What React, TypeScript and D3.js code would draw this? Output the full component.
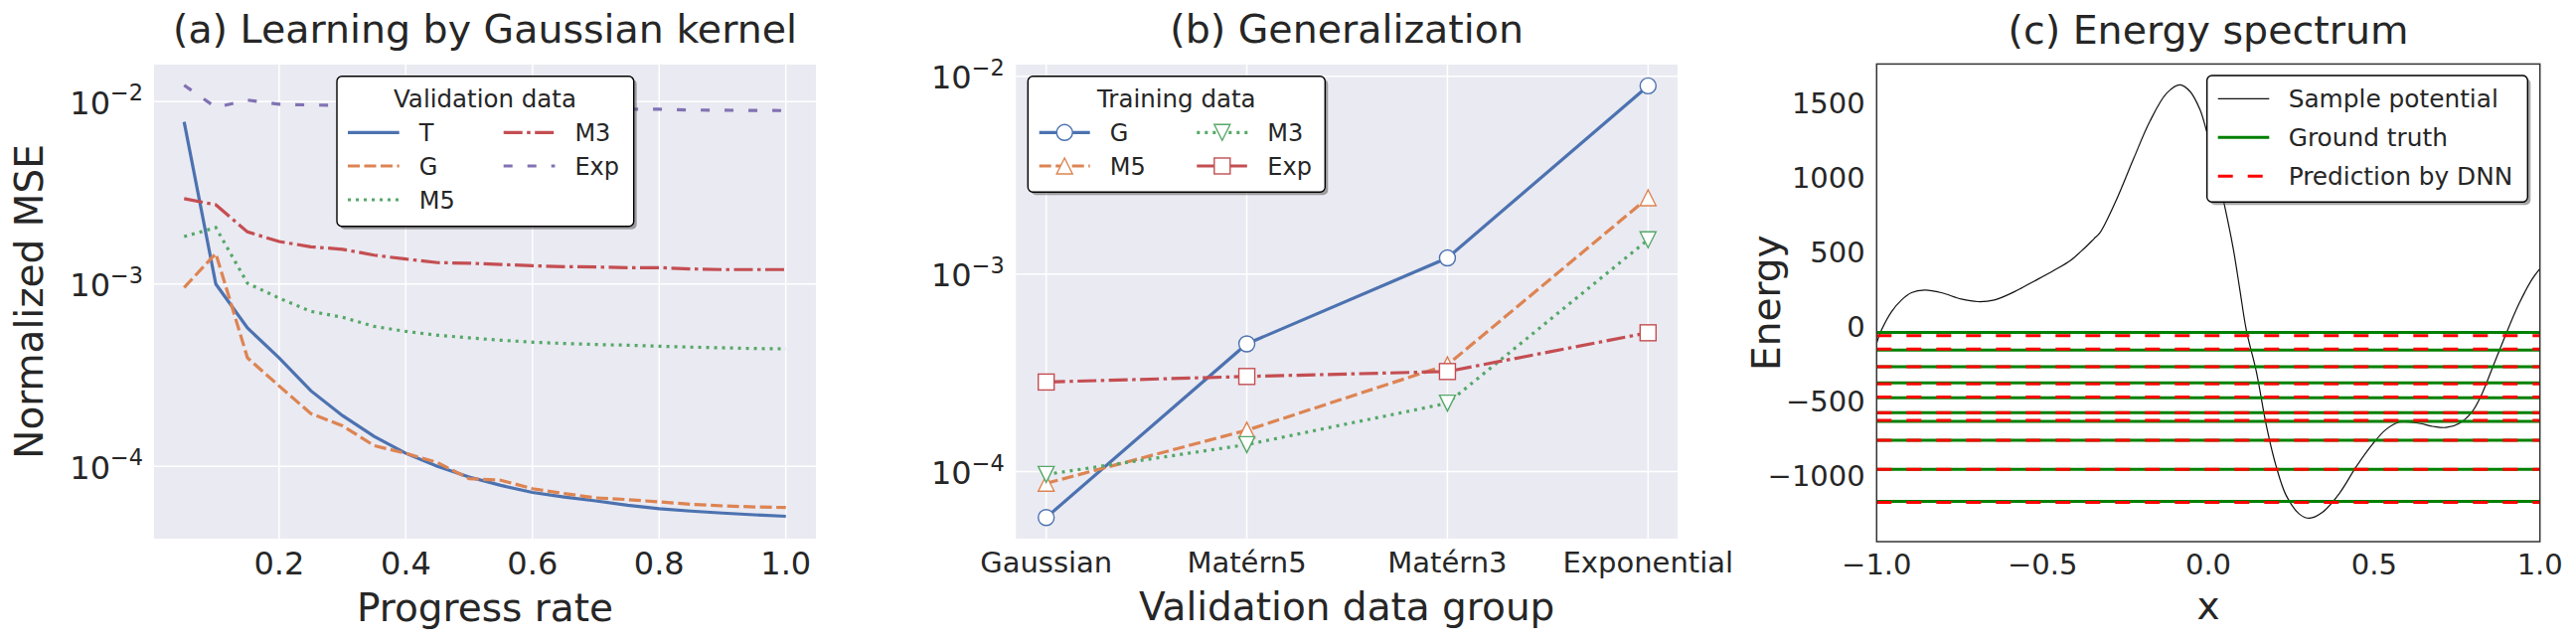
import React from 'react';
import * as d3 from 'd3';

// ---------------- Data ----------------
// Panel (a): learning by Gaussian kernel
const progress = [0.05, 0.1, 0.15, 0.2, 0.25, 0.3, 0.35, 0.4, 0.45, 0.5, 0.55, 0.6, 0.65, 0.7, 0.75, 0.8, 0.85, 0.9, 0.95, 1.0];
const valT = [7.74e-3, 1.0e-3, 5.74e-4, 3.94e-4, 2.6e-4, 1.9e-4, 1.46e-4, 1.18e-4, 1.0e-4, 8.75e-5, 7.87e-5, 7.2e-5, 6.8e-5, 6.47e-5, 6.13e-5, 5.87e-5, 5.69e-5, 5.55e-5, 5.43e-5, 5.33e-5];
const valG = [9.57e-4, 1.47e-3, 3.94e-4, 2.76e-4, 1.95e-4, 1.67e-4, 1.3e-4, 1.18e-4, 1.05e-4, 8.57e-5, 8.4e-5, 7.55e-5, 7.1e-5, 6.72e-5, 6.58e-5, 6.39e-5, 6.2e-5, 6.08e-5, 6.0e-5, 5.95e-5];
const valM5 = [1.82e-3, 2.04e-3, 1.01e-3, 8.37e-4, 7.08e-4, 6.57e-4, 5.86e-4, 5.5e-4, 5.24e-4, 5.07e-4, 4.92e-4, 4.8e-4, 4.72e-4, 4.66e-4, 4.62e-4, 4.56e-4, 4.51e-4, 4.47e-4, 4.43e-4, 4.41e-4];
const valM3 = [2.94e-3, 2.72e-3, 1.93e-3, 1.71e-3, 1.6e-3, 1.55e-3, 1.44e-3, 1.37e-3, 1.31e-3, 1.3e-3, 1.28e-3, 1.26e-3, 1.245e-3, 1.24e-3, 1.23e-3, 1.23e-3, 1.21e-3, 1.2e-3, 1.2e-3, 1.2e-3];
const valExp = [1.23e-2, 9.3e-3, 1.02e-2, 9.67e-3, 9.58e-3, 9.55e-3, 9.45e-3, 9.4e-3, 9.35e-3, 9.3e-3, 9.25e-3, 9.2e-3, 9.15e-3, 9.1e-3, 9.1e-3, 9.08e-3, 9.0e-3, 8.97e-3, 8.95e-3, 8.93e-3];
const seriesANames = ['T', 'G', 'M5', 'M3', 'Exp'];
const xTicksA = [0.2, 0.4, 0.6, 0.8, 1.0];
const logTicks = [-2, -3, -4];

// Panel (b): generalization
const groupsB = ['Gaussian', 'Matérn5', 'Matérn3', 'Exponential'];
const trainG = [5.86e-5, 4.43e-4, 1.205e-3, 8.94e-3];
const trainM5 = [8.73e-5, 1.62e-4, 3.47e-4, 2.43e-3];
const trainM3 = [9.68e-5, 1.37e-4, 2.22e-4, 1.49e-3];
const trainExp = [2.84e-4, 3.03e-4, 3.21e-4, 5.04e-4];
const seriesBNames = ['G', 'M5', 'M3', 'Exp'];

// Panel (c): energy spectrum
const potX = [-1.0, -0.985, -0.955, -0.925, -0.895, -0.855, -0.805, -0.745, -0.695, -0.645, -0.585, -0.525, -0.465, -0.415, -0.375, -0.345, -0.326, -0.276, -0.226, -0.176, -0.125, -0.085, -0.055, -0.025, -0.005, 0.02, 0.047, 0.075, 0.095, 0.115, 0.145, 0.175, 0.205, 0.235, 0.275, 0.305, 0.345, 0.395, 0.446, 0.496, 0.536, 0.576, 0.636, 0.677, 0.717, 0.757, 0.797, 0.827, 0.857, 0.897, 0.937, 0.977, 1.0];
const potE = [-112, -23, 99, 177, 226, 243, 226, 183, 166, 177, 232, 303, 376, 443, 521, 587, 630, 854, 1120, 1375, 1564, 1619, 1575, 1453, 1308, 1090, 832, 525, 249, -28, -304, -664, -941, -1134, -1259, -1286, -1245, -1120, -941, -788, -691, -642, -650, -670, -678, -650, -567, -443, -277, -55, 152, 318, 387];
const truthLevels = [-40, -158, -270, -378, -478, -578, -637, -764, -958, -1173];
const predLevels = [-62, -152, -270, -386, -474, -578, -631, -764, -958, -1179];
const xTicksC = [-1.0, -0.5, 0.0, 0.5, 1.0];
const yTicksC = [1500, 1000, 500, 0, -500, -1000];

// ---------------- Styles ----------------
const FONT = 'DejaVu Sans, sans-serif';
const TXT = '#262626';
const BG = '#EAEAF2';
const colors = ['#4C72B0', '#DD8452', '#55A868', '#C44E52', '#8172B3'];
const dashA = ['', '12,4.5', '3,5', '19,4.5,3.5,4.5', '9,15'];
const colorsB = ['#4C72B0', '#DD8452', '#55A868', '#C44E52'];
const dashB = ['', '12,4.5', '3,5', '19,4.5,3.5,4.5'];
const markersB = ['circle', 'up', 'down', 'square'];
const LW = 3.2;

const fmtMinus = (v: number, d: number) => {
  const s = v.toFixed(d);
  return s.replace('-', '\u2212');
};

function Marker({ type, x, y, color }: { type: string; x: number; y: number; color: string }) {
  const r = 8;
  const common = { fill: 'white', stroke: color, strokeWidth: 1.4 };
  if (type === 'circle') return <circle cx={x} cy={y} r={r} {...common} />;
  if (type === 'square') return <rect x={x - r} y={y - r} width={2 * r} height={2 * r} {...common} />;
  if (type === 'up') return <polygon points={`${x},${y - r} ${x - r},${y + r} ${x + r},${y + r}`} {...common} />;
  return <polygon points={`${x},${y + r} ${x - r},${y - r} ${x + r},${y - r}`} {...common} />;
}

function LogTick({ x, y, exp, fs }: { x: number; y: number; exp: number; fs: number }) {
  return (
    <text x={x} y={y + 12.5} textAnchor="end" fontFamily={FONT} fontSize={fs} fill={TXT}>
      10
      <tspan dy={-13.5} fontSize={fs * 0.7}>{'\u2212' + Math.abs(exp)}</tspan>
    </text>
  );
}

function LegendBox({ x, y, w, h }: { x: number; y: number; w: number; h: number }) {
  return (
    <g>
      <rect x={x + 3} y={y + 3} width={w} height={h} rx={5} fill="#4d4d4d" opacity={0.5} />
      <rect x={x} y={y} width={w} height={h} rx={5} fill="white" stroke="black" strokeWidth={1.4} />
    </g>
  );
}

// ---------------- Panel A ----------------
function PanelA() {
  const L = 155, R = 821, T = 65, B = 542;
  const x = d3.scaleLinear().domain([0.0025, 1.0475]).range([L, R]);
  const y = d3.scaleLog().domain([Math.pow(10, -4.396), Math.pow(10, -1.797)]).range([B, T]);
  const all = [valT, valG, valM5, valM3, valExp];
  const line = d3.line<number>().x((_, i) => x(progress[i])).y(d => y(d));
  const legRows = [133.3, 167, 201];
  return (
    <g>
      <rect x={L} y={T} width={R - L} height={B - T} fill={BG} />
      {xTicksA.map(t => <line key={'gx' + t} x1={x(t)} x2={x(t)} y1={T} y2={B} stroke="white" strokeWidth={1.5} />)}
      {logTicks.map(e => <line key={'gy' + e} x1={L} x2={R} y1={y(Math.pow(10, e))} y2={y(Math.pow(10, e))} stroke="white" strokeWidth={1.5} />)}
      {all.map((s, i) => (
        <path key={i} d={line(s) || ''} fill="none" stroke={colors[i]} strokeWidth={LW} strokeDasharray={dashA[i] || undefined} />
      ))}
      {xTicksA.map(t => (
        <text key={'tx' + t} x={x(t)} y={578.3} textAnchor="middle" fontFamily={FONT} fontSize={32} fill={TXT}>{t.toFixed(1)}</text>
      ))}
      {logTicks.map(e => <LogTick key={'ty' + e} x={144} y={y(Math.pow(10, e))} exp={e} fs={32} />)}
      <text x={(L + R) / 2} y={625} textAnchor="middle" fontFamily={FONT} fontSize={39} fill={TXT}>Progress rate</text>
      <text transform={`translate(43,${(T + B) / 2}) rotate(-90)`} textAnchor="middle" fontFamily={FONT} fontSize={39} fill={TXT}>Normalized MSE</text>
      <text x={(L + R) / 2} y={43.3} textAnchor="middle" fontFamily={FONT} fontSize={39.5} fill={TXT}>(a) Learning by Gaussian kernel</text>
      {/* legend */}
      <LegendBox x={339} y={76.7} w={298.7} h={151} />
      <text x={488} y={108.3} textAnchor="middle" fontFamily={FONT} fontSize={24.5} fill={TXT}>Validation data</text>
      {seriesANames.map((n, i) => {
        const col = i < 3 ? 0 : 1;
        const row = i < 3 ? i : i - 3;
        const lx = col === 0 ? 350 : 506.7;
        const ly = legRows[row];
        return (
          <g key={n}>
            <line x1={lx} x2={lx + 51.7} y1={ly} y2={ly} stroke={colors[i]} strokeWidth={LW} strokeDasharray={dashA[i] || undefined} />
            <text x={lx + 71.7} y={ly + 8.8} fontFamily={FONT} fontSize={24} fill={TXT}>{n}</text>
          </g>
        );
      })}
    </g>
  );
}

// ---------------- Panel B ----------------
function PanelB() {
  const L = 1022.3, R = 1688, T = 65, B = 542;
  const x = d3.scalePoint<string>().domain(groupsB).range([1052.7, 1658.3]);
  const y = d3.scaleLog().domain([Math.pow(10, -4.339), Math.pow(10, -1.941)]).range([B, T]);
  const all = [trainG, trainM5, trainM3, trainExp];
  const line = d3.line<number>().x((_, i) => x(groupsB[i]) as number).y(d => y(d));
  const legRows = [133.3, 167];
  return (
    <g>
      <rect x={L} y={T} width={R - L} height={B - T} fill={BG} />
      {groupsB.map(g => <line key={'gx' + g} x1={x(g)} x2={x(g)} y1={T} y2={B} stroke="white" strokeWidth={1.5} />)}
      {logTicks.map(e => <line key={'gy' + e} x1={L} x2={R} y1={y(Math.pow(10, e))} y2={y(Math.pow(10, e))} stroke="white" strokeWidth={1.5} />)}
      {all.map((s, i) => (
        <path key={'l' + i} d={line(s) || ''} fill="none" stroke={colorsB[i]} strokeWidth={LW} strokeDasharray={dashB[i] || undefined} />
      ))}
      {all.map((s, i) => s.map((v, j) => (
        <Marker key={'m' + i + '-' + j} type={markersB[i]} x={x(groupsB[j]) as number} y={y(v)} color={colorsB[i]} />
      )))}
      {groupsB.map(g => (
        <text key={'tx' + g} x={x(g)} y={576} textAnchor="middle" fontFamily={FONT} fontSize={29} fill={TXT}>{g}</text>
      ))}
      {logTicks.map(e => <LogTick key={'ty' + e} x={1010.7} y={y(Math.pow(10, e))} exp={e} fs={32} />)}
      <text x={(L + R) / 2} y={624} textAnchor="middle" fontFamily={FONT} fontSize={39} fill={TXT}>Validation data group</text>
      <text x={(L + R) / 2} y={43.3} textAnchor="middle" fontFamily={FONT} fontSize={39.5} fill={TXT}>(b) Generalization</text>
      {/* legend */}
      <LegendBox x={1034.3} y={76.7} w={299} h={116.6} />
      <text x={1183.8} y={108.3} textAnchor="middle" fontFamily={FONT} fontSize={24.5} fill={TXT}>Training data</text>
      {seriesBNames.map((n, i) => {
        const col = i < 2 ? 0 : 1;
        const row = i % 2;
        const lx = col === 0 ? 1045.7 : 1204.3;
        const ly = legRows[row];
        return (
          <g key={n}>
            <line x1={lx} x2={lx + 51} y1={ly} y2={ly} stroke={colorsB[i]} strokeWidth={LW} strokeDasharray={dashB[i] || undefined} />
            <Marker type={markersB[i]} x={lx + 25.5} y={ly} color={colorsB[i]} />
            <text x={lx + 71} y={ly + 8.8} fontFamily={FONT} fontSize={24} fill={TXT}>{n}</text>
          </g>
        );
      })}
    </g>
  );
}

// ---------------- Panel C ----------------
function PanelC() {
  const L = 1888.3, R = 2555.7, T = 64.4, B = 545;
  const x = d3.scaleLinear().domain([-1, 1]).range([L, R]);
  const y = d3.scaleLinear().domain([-1443, 1759]).range([B, T]);
  const pot = d3.line<number>().x((_, i) => x(potX[i])).y(d => y(d)).curve(d3.curveCatmullRom.alpha(0.5));
  return (
    <g>
      <rect x={L} y={T} width={R - L} height={B - T} fill="white" />
      <path d={pot(potE) || ''} fill="none" stroke="#111" strokeWidth={1.2} />
      {truthLevels.map((e, i) => (
        <line key={'g' + i} x1={L} x2={R} y1={y(e)} y2={y(e)} stroke="#008000" strokeWidth={3} />
      ))}
      {predLevels.map((e, i) => (
        <line key={'r' + i} x1={L} x2={R} y1={y(e)} y2={y(e)} stroke="#FF0000" strokeWidth={3} strokeDasharray="15,15" />
      ))}
      <rect x={L} y={T} width={R - L} height={B - T} fill="none" stroke="#333" strokeWidth={1.5} />
      {xTicksC.map(t => (
        <text key={'tx' + t} x={x(t)} y={577.5} textAnchor="middle" fontFamily={FONT} fontSize={29} fill={TXT}>{fmtMinus(t, 1)}</text>
      ))}
      {yTicksC.map(t => (
        <text key={'ty' + t} x={1876.7} y={y(t) + 10.5} textAnchor="end" fontFamily={FONT} fontSize={29} fill={TXT}>{fmtMinus(t, 0)}</text>
      ))}
      <text x={(L + R) / 2} y={623} textAnchor="middle" fontFamily={FONT} fontSize={39} fill={TXT}>x</text>
      <text transform={`translate(1791,${(T + B) / 2}) rotate(-90)`} textAnchor="middle" fontFamily={FONT} fontSize={39} fill={TXT}>Energy</text>
      <text x={(L + R) / 2} y={43.6} textAnchor="middle" fontFamily={FONT} fontSize={39.5} fill={TXT}>(c) Energy spectrum</text>
      {/* legend */}
      <LegendBox x={2220.7} y={76} w={322.6} h={127.3} />
      <line x1={2231.7} x2={2283.3} y1={99.3} y2={99.3} stroke="#111" strokeWidth={1.2} />
      <text x={2302.7} y={108.1} fontFamily={FONT} fontSize={24.8} fill={TXT}>Sample potential</text>
      <line x1={2231.7} x2={2283.3} y1={138.3} y2={138.3} stroke="#008000" strokeWidth={3} />
      <text x={2302.7} y={147.1} fontFamily={FONT} fontSize={24.8} fill={TXT}>Ground truth</text>
      <line x1={2231.7} x2={2283.3} y1={177.3} y2={177.3} stroke="#FF0000" strokeWidth={3} strokeDasharray="15,15" />
      <text x={2302.7} y={186.1} fontFamily={FONT} fontSize={24.8} fill={TXT}>Prediction by DNN</text>
    </g>
  );
}

export default function App() {
  return (
    <svg width={2592} height={648} style={{ position: 'absolute', left: 0, top: 0, background: 'white' }}>
      <rect x={0} y={0} width={2592} height={648} fill="white" />
      <PanelA />
      <PanelB />
      <PanelC />
    </svg>
  );
}
